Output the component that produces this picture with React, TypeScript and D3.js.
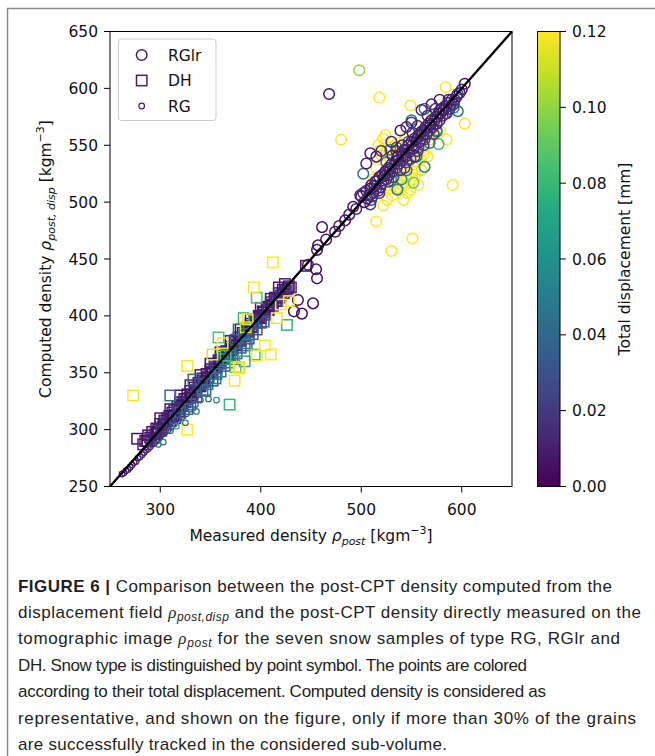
import { scaleLinear, interpolateViridis, range } from 'd3';

// [measured, computed, displacement]  (drawn in this order)
const rglrPoints: number[][] = [
  [518, 592, 0.12], [584, 601, 0.12], [549, 585, 0.12], [603, 569, 0.12], [480, 555, 0.12],
  [585, 555, 0.12], [591, 515, 0.12], [515, 483, 0.12], [551, 468, 0.12], [530, 457, 0.12],
  [524, 559, 0.12], [519, 546, 0.12], [529, 537, 0.12], [534, 550, 0.12], [527, 524, 0.12],
  [539, 528, 0.12], [544, 515, 0.12], [531, 506, 0.12], [526, 502, 0.12], [542, 502, 0.12],
  [554, 524, 0.12], [559, 537, 0.12], [563, 546, 0.12], [568, 555, 0.12], [549, 511, 0.12],
  [537, 520, 0.12], [557, 515, 0.12], [578, 563, 0.12], [522, 497, 0.12], [547, 534, 0.12],
  [551, 546, 0.12], [573, 559, 0.12], [517, 550, 0.12], [522, 556, 0.12], [528, 548, 0.12],
  [520, 541, 0.12], [535, 512, 0.115], [545, 522, 0.115], [532, 530, 0.12], [541, 538, 0.12],
  [515, 530, 0.12], [525, 515, 0.12], [538, 510, 0.12], [560, 528, 0.115], [566, 540, 0.12],
  [512, 520, 0.12], [546, 508, 0.12], [553, 530, 0.12], [536, 544, 0.12], [562, 555, 0.12],
  [570, 573, 0.12], [557, 566, 0.12], [543, 556, 0.12],
  [533, 520, 0.12], [548, 525, 0.12], [556, 535, 0.12], [540, 515, 0.12], [551, 520, 0.12],
  [562, 542, 0.12], [529, 512, 0.12], [536, 530, 0.115], [544, 546, 0.12], [525, 545, 0.12],
  [556, 552, 0.12], [570, 562, 0.12], [547, 540, 0.12], [538, 552, 0.12], [533, 540, 0.12],
  [498, 616, 0.1], [563, 582, 0.05], [596, 580, 0.045], [577, 551, 0.085], [552, 517, 0.09],
  [536, 511, 0.05], [563, 531, 0.055], [575, 563, 0.05], [550, 572, 0.045], [529, 546, 0.06],
  [502, 525, 0.04], [559, 561, 0.05], [575, 562, 0.055], [540, 520, 0.06], [545, 528, 0.045],
  [568, 552, 0.04], [555, 540, 0.05], [530, 519, 0.07], [525, 535, 0.045], [585, 578, 0.04],
  [547, 553, 0.035], [592, 583, 0.06], [510, 502, 0.03], [535, 548, 0.03], [557, 548, 0.03],
  [468, 595, 0.005], [461, 478, 0.005], [457, 462, 0.005], [456, 458, 0.005], [455, 441, 0.005],
  [456, 433, 0.005], [437, 414, 0.005], [441, 402, 0.005], [452, 411, 0.005], [433, 404, 0.005],
  [447, 445, 0.01], [474, 474, 0.005], [484, 484, 0.005], [492, 496, 0.005], [499, 506, 0.01],
  [509, 498, 0.02], [465, 467, 0.005], [478, 479, 0.01], [488, 489, 0.008], [495, 494, 0.01],
  [509, 543, 0.01], [505, 534, 0.01], [539, 563, 0.008], [560, 581, 0.01], [515, 540, 0.01],
  [520, 545, 0.012], [530, 553, 0.01], [545, 566, 0.01], [550, 570, 0.012], [570, 586, 0.01],
  [578, 590, 0.01],
  [500, 505, 0.01], [503, 500, 0.005], [505, 510, 0.01], [508, 506, 0.015], [510, 515, 0.005],
  [512, 508, 0.01], [514, 518, 0.01], [515, 512, 0.02], [517, 510, 0.01], [518, 522, 0.005],
  [520, 516, 0.015], [521, 524, 0.01], [522, 519, 0.01], [524, 527, 0.005], [525, 520, 0.02],
  [527, 530, 0.01], [528, 524, 0.015], [530, 533, 0.005], [531, 527, 0.01], [532, 522, 0.02],
  [534, 536, 0.01], [535, 530, 0.015], [536, 540, 0.005], [538, 534, 0.01], [539, 528, 0.02],
  [540, 543, 0.01], [541, 537, 0.01], [543, 546, 0.005], [544, 540, 0.015], [545, 535, 0.02],
  [547, 550, 0.01], [548, 544, 0.01], [549, 538, 0.02], [550, 553, 0.005], [552, 547, 0.01],
  [553, 556, 0.01], [554, 550, 0.015], [556, 545, 0.02], [557, 559, 0.005], [558, 553, 0.01],
  [560, 562, 0.01], [561, 556, 0.015], [562, 550, 0.02], [564, 566, 0.005], [565, 560, 0.01],
  [567, 569, 0.01], [568, 563, 0.015], [570, 572, 0.005], [571, 566, 0.01], [572, 560, 0.02],
  [574, 575, 0.01], [575, 569, 0.01], [577, 578, 0.005], [578, 572, 0.015], [580, 582, 0.01],
  [581, 576, 0.01], [583, 584, 0.005], [584, 578, 0.02], [586, 587, 0.01], [588, 582, 0.015],
  [590, 590, 0.01], [592, 586, 0.01], [595, 593, 0.005], [598, 596, 0.01], [603, 604, 0.005],
  [502, 508, 0.015], [506, 503, 0.01], [509, 512, 0.005], [511, 505, 0.02], [513, 514, 0.01],
  [516, 519, 0.015], [519, 513, 0.01], [523, 523, 0.005], [526, 526, 0.015], [529, 529, 0.01],
  [533, 533, 0.02], [537, 537, 0.005], [542, 541, 0.01], [546, 546, 0.015], [551, 550, 0.01],
  [555, 555, 0.005], [559, 558, 0.015], [563, 563, 0.01], [566, 565, 0.02], [569, 568, 0.005],
  [573, 572, 0.01], [576, 575, 0.015], [579, 578, 0.01], [582, 581, 0.005], [585, 584, 0.015],
  [587, 590, 0.01], [589, 585, 0.02], [593, 590, 0.01], [596, 595, 0.015], [600, 599, 0.01],
  [531, 541, 0.01], [535, 545, 0.015], [541, 550, 0.01], [551, 561, 0.01], [556, 567, 0.015],
  [566, 576, 0.01], [574, 582, 0.015], [543, 530, 0.02], [553, 540, 0.015], [563, 555, 0.02],
  [527, 518, 0.02], [518, 508, 0.015],
];

const dhPoints: number[][] = [
  [277, 292, 0.005], [285, 290, 0.01], [288, 295, 0.005], [290, 293, 0.01], [292, 298, 0.005],
  [295, 296, 0.015], [296, 301, 0.01], [298, 300, 0.005], [300, 305, 0.01], [302, 302, 0.02],
  [304, 308, 0.005], [305, 305, 0.01], [307, 310, 0.01], [309, 312, 0.005], [310, 308, 0.015],
  [312, 315, 0.01], [314, 317, 0.005], [315, 313, 0.02], [317, 320, 0.01], [319, 318, 0.01],
  [320, 324, 0.005], [322, 321, 0.015], [324, 327, 0.01], [325, 324, 0.02], [327, 331, 0.005],
  [329, 328, 0.01], [330, 334, 0.01], [332, 331, 0.015], [334, 337, 0.005], [336, 335, 0.02],
  [338, 341, 0.01], [340, 338, 0.01], [342, 345, 0.005], [344, 342, 0.015], [346, 349, 0.01],
  [348, 346, 0.02], [350, 353, 0.005], [352, 350, 0.01], [354, 357, 0.01], [356, 354, 0.015],
  [358, 361, 0.005], [360, 358, 0.02], [362, 365, 0.01], [364, 362, 0.01], [366, 369, 0.005],
  [368, 366, 0.015], [370, 373, 0.01], [372, 370, 0.02], [374, 377, 0.005], [376, 374, 0.01],
  [378, 381, 0.01], [380, 378, 0.015], [382, 385, 0.005], [384, 382, 0.02], [386, 389, 0.01],
  [388, 386, 0.01], [390, 393, 0.005], [392, 390, 0.015], [394, 397, 0.01], [396, 394, 0.02],
  [398, 400, 0.005], [400, 398, 0.01], [402, 404, 0.01], [404, 401, 0.015], [406, 408, 0.005],
  [408, 405, 0.02], [410, 412, 0.01], [412, 409, 0.01], [414, 416, 0.005], [416, 413, 0.015],
  [418, 420, 0.01], [420, 418, 0.02], [422, 423, 0.005], [425, 422, 0.01], [428, 426, 0.01],
  [430, 425, 0.015], [445, 444, 0.005],
  [283, 287, 0.01], [287, 290, 0.005], [291, 291, 0.015], [294, 293, 0.01], [297, 297, 0.005],
  [301, 299, 0.02], [303, 304, 0.01], [306, 307, 0.015], [311, 311, 0.01], [313, 312, 0.005],
  [318, 316, 0.02], [321, 322, 0.01], [323, 324, 0.015], [326, 327, 0.01], [331, 330, 0.005],
  [335, 333, 0.01], [339, 339, 0.015], [343, 343, 0.01], [347, 346, 0.005], [351, 351, 0.01],
  [355, 355, 0.02], [359, 359, 0.01], [363, 363, 0.005], [367, 367, 0.015], [371, 371, 0.01],
  [375, 375, 0.02], [379, 379, 0.01], [383, 383, 0.005], [387, 387, 0.015], [391, 391, 0.01],
  [395, 395, 0.02], [399, 399, 0.01], [403, 403, 0.005], [407, 406, 0.015], [411, 410, 0.01],
  [415, 414, 0.02], [419, 416, 0.01], [423, 420, 0.015], [427, 424, 0.01], [418, 425, 0.01],
  [424, 428, 0.01], [300, 310, 0.01], [310, 318, 0.01], [320, 330, 0.005], [330, 339, 0.01],
  [340, 348, 0.01], [350, 358, 0.005], [360, 368, 0.01], [370, 378, 0.01], [380, 388, 0.005],
  [390, 397, 0.01], [400, 407, 0.01], [410, 415, 0.01],
  [310, 330, 0.045], [333, 344, 0.035], [378, 388, 0.04], [386, 374, 0.045], [330, 322, 0.04],
  [336, 329, 0.035], [342, 334, 0.05], [347, 340, 0.045], [352, 343, 0.03], [356, 349, 0.04],
  [360, 351, 0.05], [364, 356, 0.035], [368, 359, 0.045], [372, 362, 0.05], [376, 367, 0.04],
  [380, 372, 0.035], [384, 376, 0.045], [388, 380, 0.03], [392, 384, 0.04], [396, 388, 0.03],
  [370, 365, 0.055], [362, 362, 0.06], [355, 345, 0.05], [340, 340, 0.03], [345, 335, 0.04],
  [375, 379, 0.035], [383, 384, 0.05], [400, 394, 0.03], [403, 395, 0.035], [320, 315, 0.04],
  [315, 310, 0.035], [327, 318, 0.045],
  [396, 416, 0.085], [426, 392, 0.08], [358, 381, 0.085], [369, 322, 0.08], [394, 366, 0.085],
  [384, 360, 0.075], [383, 398, 0.08], [365, 365, 0.085], [375, 355, 0.09],
  [412, 447, 0.12], [393, 425, 0.12], [428, 413, 0.12], [416, 398, 0.12], [404, 374, 0.12],
  [410, 366, 0.12], [396, 365, 0.12], [379, 354, 0.12], [374, 343, 0.12], [327, 356, 0.12],
  [273, 330, 0.12], [327, 300, 0.12], [387, 397, 0.12], [352, 366, 0.115], [362, 376, 0.12],
  [378, 355, 0.115], [420, 410, 0.12], [385, 390, 0.115],
];

const rgPoints: number[][] = [
  [262, 261, 0.005], [264, 262, 0.01], [266, 264, 0.005], [268, 265, 0.01], [270, 267, 0.005],
  [272, 269, 0.01], [274, 271, 0.005], [276, 272, 0.01], [278, 275, 0.005], [280, 276, 0.01],
  [282, 278, 0.015], [284, 280, 0.005], [286, 282, 0.01], [288, 283, 0.015], [290, 285, 0.01],
  [292, 287, 0.02], [294, 288, 0.01], [296, 290, 0.015], [298, 292, 0.01], [300, 294, 0.02],
  [302, 296, 0.015], [305, 298, 0.02], [308, 300, 0.015], [311, 302, 0.02], [314, 305, 0.025],
  [318, 308, 0.02], [322, 311, 0.03], [326, 314, 0.025], [330, 318, 0.03], [335, 322, 0.03],
  [340, 326, 0.035],
  [356, 326, 0.05], [348, 327, 0.035], [303, 289, 0.045], [325, 306, 0.04], [316, 303, 0.06],
  [310, 299, 0.04], [298, 287, 0.05], [336, 316, 0.045],
];

const legendLabels = ['RGlr', 'DH', 'RG'];
const xAxisTicks = [300, 400, 500, 600];
const yAxisTicks = [250, 300, 350, 400, 450, 500, 550, 600, 650];
const colorTicks = [0, 0.02, 0.04, 0.06, 0.08, 0.1, 0.12];

const captionLines = [
  'Comparison between the post-CPT density computed from the',
  'displacement field',
  'and the post-CPT density directly measured on the',
  'tomographic image',
  'for the seven snow samples of type RG, RGlr and',
  'DH. Snow type is distinguished by point symbol. The points are colored',
  'according to their total displacement. Computed density is considered as',
  'representative, and shown on the figure, only if more than 30% of the grains',
  'are successfully tracked in the considered sub-volume.',
];

const W = 655;
const H = 756;
const plot = { left: 110, right: 512, top: 31.5, bottom: 486.5 };
const cbar = { left: 537.5, right: 560 };
const font = 'DejaVu Sans, sans-serif';
const fs = 15.5;

export default function App() {
  const x = scaleLinear().domain([250, 650]).range([plot.left, plot.right]);
  const y = scaleLinear().domain([250, 650]).range([plot.bottom, plot.top]);
  const c = scaleLinear().domain([0, 0.12]).range([plot.bottom, plot.top]);
  const color = (d: number) => interpolateViridis(d / 0.12);
  const legendColor = interpolateViridis(0.08);

  const stops = range(0, 1.0001, 0.1);
  const capFont = 'Liberation Sans, Arial, sans-serif';
  const capX = 18;

  return (
    <svg width={W} height={H} style={{ position: 'absolute', left: 0, top: 0, background: '#fff' }}>
      <defs>
        <linearGradient id="viridis" x1="0" y1="1" x2="0" y2="0">
          {stops.map(s => (
            <stop key={s} offset={s} stopColor={interpolateViridis(s)} />
          ))}
        </linearGradient>
      </defs>
      <rect x={0} y={0} width={W} height={H} fill="#fff" />
      <rect x={7.5} y={8.5} width={800} height={900} fill="none" stroke="#8c8c8c" strokeWidth={1.5} />

      {/* points */}
      <g fill="none">
        {rglrPoints.map((p, i) => (
          <circle key={'a' + i} cx={x(p[0])} cy={y(p[1])} r={5.3} stroke={color(p[2])} strokeWidth={1.5} />
        ))}
        {dhPoints.map((p, i) => (
          <rect key={'b' + i} x={x(p[0]) - 5.2} y={y(p[1]) - 5.2} width={10.4} height={10.4} stroke={color(p[2])} strokeWidth={1.5} />
        ))}
        {rgPoints.map((p, i) => (
          <circle key={'c' + i} cx={x(p[0])} cy={y(p[1])} r={2.8} stroke={color(p[2])} strokeWidth={1.2} />
        ))}
      </g>

      {/* 1:1 line */}
      <line x1={x(250)} y1={y(250)} x2={x(650)} y2={y(650)} stroke="#000" strokeWidth={2.4} />

      <rect x={plot.left} y={plot.top} width={plot.right - plot.left} height={plot.bottom - plot.top} fill="none" stroke="#000" strokeWidth={1} />

      <g fontFamily={font} fontSize={fs} fill="#111">
        {xAxisTicks.map(t => (
          <g key={t}>
            <line x1={x(t)} x2={x(t)} y1={plot.bottom} y2={plot.bottom + 6} stroke="#000" />
            <text x={x(t)} y={plot.bottom + 28} textAnchor="middle">{t}</text>
          </g>
        ))}
        {yAxisTicks.map(t => (
          <g key={t}>
            <line x1={plot.left - 6} x2={plot.left} y1={y(t)} y2={y(t)} stroke="#000" />
            <text x={plot.left - 12} y={y(t) + 5.5} textAnchor="end">{t}</text>
          </g>
        ))}
        <text x={311} y={541} textAnchor="middle">
          Measured density <tspan fontStyle="italic">ρ</tspan>
          <tspan fontStyle="italic" fontSize={11} dy={4}>post</tspan>
          <tspan dy={-4}> [kgm</tspan>
          <tspan fontSize={11} dy={-7}>−3</tspan>
          <tspan dy={7}>]</tspan>
        </text>
        <text transform="translate(51,259) rotate(-90)" textAnchor="middle">
          Computed density <tspan fontStyle="italic">ρ</tspan>
          <tspan fontStyle="italic" fontSize={11} dy={4}>post, disp</tspan>
          <tspan dy={-4}> [kgm</tspan>
          <tspan fontSize={11} dy={-7}>−3</tspan>
          <tspan dy={7}>]</tspan>
        </text>

        {/* colorbar */}
        <rect x={cbar.left} y={plot.top} width={cbar.right - cbar.left} height={plot.bottom - plot.top} fill="url(#viridis)" stroke="#000" strokeWidth={1} />
        {colorTicks.map(t => (
          <g key={t}>
            <line x1={cbar.right} x2={cbar.right + 6} y1={c(t)} y2={c(t)} stroke="#000" />
            <text x={cbar.right + 12} y={c(t) + 5.5}>{t.toFixed(2)}</text>
          </g>
        ))}
        <text transform="translate(630,259) rotate(-90)" textAnchor="middle">Total displacement [mm]</text>

        {/* legend */}
        <rect x={118.5} y={39} width={97.5} height={81.5} rx={3} fill="#fff" fillOpacity={0.8} stroke="#ccc" />
        {legendLabels.map((l, i) => {
          const ly = 55 + i * 25.5;
          return (
            <g key={l}>
              {i === 0 && <circle cx={141.7} cy={ly} r={5.3} fill="none" stroke={legendColor} strokeWidth={1.5} />}
              {i === 1 && <rect x={141.7 - 5.2} y={ly - 5.2} width={10.4} height={10.4} fill="none" stroke={legendColor} strokeWidth={1.5} />}
              {i === 2 && <circle cx={141.7} cy={ly} r={2.8} fill="none" stroke={legendColor} strokeWidth={1.2} />}
              <text x={168} y={ly + 5.5}>{l}</text>
            </g>
          );
        })}
      </g>

      {/* caption */}
      <g fontFamily={capFont} fontSize={17} fill="#231f20">
        <text x={capX} y={592} textLength={594} lengthAdjust="spacing">
          <tspan fontWeight="bold">FIGURE 6 | </tspan>{captionLines[0]}
        </text>
        <text x={capX} y={618} textLength={623} lengthAdjust="spacing">
          {captionLines[1]} <tspan fontFamily="Liberation Serif, serif" fontStyle="italic">ρ</tspan>
          <tspan fontStyle="italic" fontSize={12} dy={3}>post,disp</tspan>
          <tspan dy={-3}> {captionLines[2]}</tspan>
        </text>
        <text x={capX} y={644} textLength={602} lengthAdjust="spacing">
          {captionLines[3]} <tspan fontFamily="Liberation Serif, serif" fontStyle="italic">ρ</tspan>
          <tspan fontStyle="italic" fontSize={12} dy={3}>post</tspan>
          <tspan dy={-3}> {captionLines[4]}</tspan>
        </text>
        <text x={capX} y={671} textLength={509} lengthAdjust="spacing">{captionLines[5]}</text>
        <text x={capX} y={697} textLength={528} lengthAdjust="spacing">{captionLines[6]}</text>
        <text x={capX} y={724} textLength={618} lengthAdjust="spacing">{captionLines[7]}</text>
        <text x={capX} y={750} textLength={429} lengthAdjust="spacing">{captionLines[8]}</text>
      </g>
    </svg>
  );
}
